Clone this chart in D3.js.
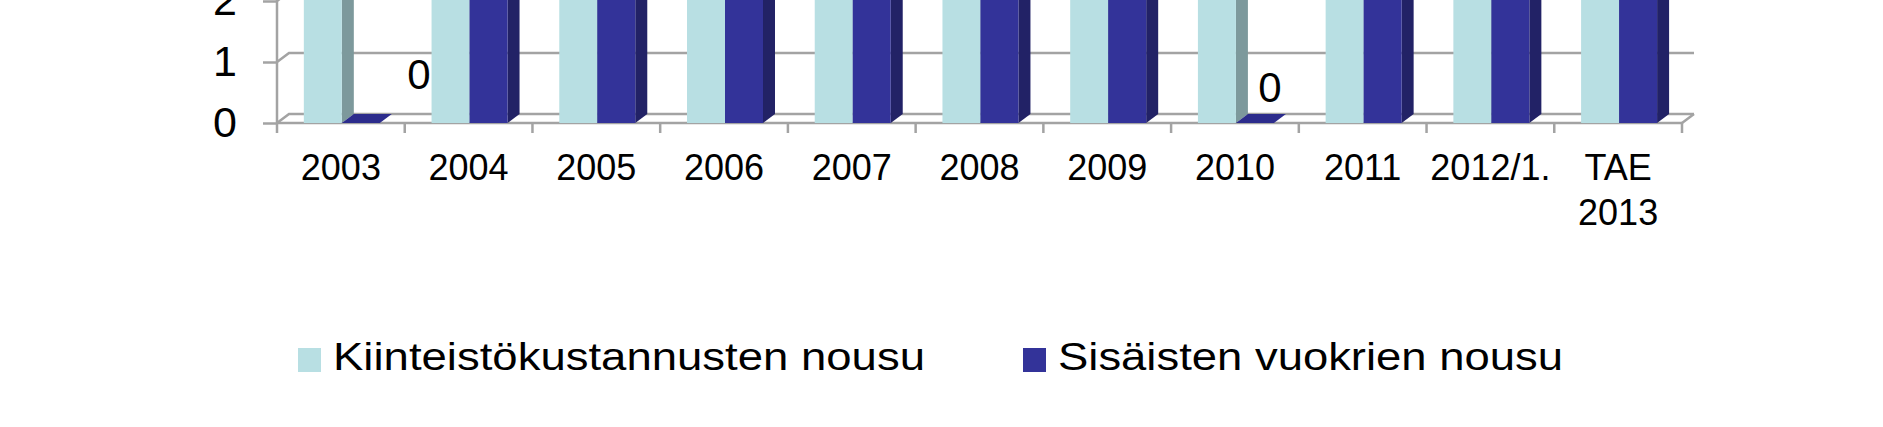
<!DOCTYPE html>
<html>
<head>
<meta charset="utf-8">
<script src="https://cdn.jsdelivr.net/npm/d3@7"></script>
<style>
  body { margin: 0; background: #fff; }
  text { font-family: "Liberation Sans", Arial, sans-serif; fill: #000; }
</style>
</head>
<body>
<div class="chart"></div>
<script>
// Years along the x axis ("TAE 2013" is split on two lines)
var categories = ['2003', '2004', '2005', '2006', '2007', '2008', '2009', '2010', '2011', '2012/1.', 'TAE 2013'];

// Both series run past the top of the cropped picture, except the two zeros
var kiinteistoNousu = [3.5, 3.2, 3.0, 3.8, 4.5, 5.0, 3.9, 2.8, 3.6, 4.0, 3.3];
var vuokrienNousu = [0, 3.0, 2.5, 3.0, 3.5, 4.0, 4.5, 0, 3.0, 3.5, 3.0];

var seriesNames = ['Kiinteistökustannusten nousu', 'Sisäisten vuokrien nousu'];
// only the bottom of the value axis is inside the picture
var yTicks = [0, 1, 2];

var width = 1883, height = 427;
var colors = [
  { front: '#b8dfe3', side: '#7d999c', top: '#9cc4c8' },
  { front: '#333399', side: '#222266', top: '#2c2c8c' }
];
var depthX = 12, depthY = 9; // fake 3d offset
var gridColor = '#a3a3a3';

var svg = d3.select('.chart').append('svg')
  .attr('width', width)
  .attr('height', height);

var x0 = d3.scaleBand()
  .domain(categories)
  .range([277, 1682]);
var bw = x0.bandwidth();
var x1 = d3.scaleBand()
  .domain([0, 1])
  .range([bw * 0.21, bw * 0.805]);
var y = d3.scaleLinear()
  .domain([0, 7])
  .range([123, 123 - 7 * 61]);

var left = x0.range()[0], right = x0.range()[1], y0 = y(0);

// gridlines: diagonal on the side wall + line on the back wall
yTicks.forEach(function(t) {
  var yy = y(t);
  svg.append('polyline')
    .attr('points', [[left, yy], [left + depthX, yy - depthY], [right + depthX, yy - depthY]].join(' '))
    .attr('fill', 'none')
    .attr('stroke', gridColor)
    .attr('stroke-width', 2.5);
});
// floor right edge
svg.append('line')
  .attr('x1', right).attr('y1', y0)
  .attr('x2', right + depthX).attr('y2', y0 - depthY)
  .attr('stroke', gridColor).attr('stroke-width', 2.5);

// y axis
var yAxis = d3.axisLeft(y)
  .tickValues(yTicks)
  .tickFormat(d3.format('d'))
  .tickSize(14)
  .tickPadding(26);
var yg = svg.append('g')
  .attr('transform', 'translate(' + left + ',0)')
  .call(yAxis);
yg.select('.domain').remove();
yg.selectAll('line').attr('stroke', gridColor).attr('stroke-width', 2.5);
yg.selectAll('text')
  .attr('font-size', 43)
  .attr('font-family', '"Liberation Sans", Arial, sans-serif')
  .attr('fill', '#000');
svg.append('line')
  .attr('x1', left).attr('x2', left)
  .attr('y1', y(7)).attr('y2', y0 + 10)
  .attr('stroke', gridColor).attr('stroke-width', 2.5);

// front baseline and category ticks
svg.append('line')
  .attr('x1', left).attr('x2', right)
  .attr('y1', y0).attr('y2', y0)
  .attr('stroke', gridColor).attr('stroke-width', 2.5);
svg.selectAll('.ctick')
  .data(categories)
  .enter().append('line')
  .attr('x1', function(d) { return x0(d) + bw; })
  .attr('x2', function(d) { return x0(d) + bw; })
  .attr('y1', y0).attr('y2', y0 + 10)
  .attr('stroke', gridColor).attr('stroke-width', 2.5);

// bars
var bars = [];
[kiinteistoNousu, vuokrienNousu].forEach(function(vals, s) {
  vals.forEach(function(v, i) {
    bars.push({ s: s, cat: categories[i], v: v });
  });
});

var g = svg.selectAll('.bar')
  .data(bars)
  .enter().append('g');

g.each(function(d) {
  var el = d3.select(this);
  var bx = x0(d.cat) + x1(d.s), w = x1.bandwidth(), top = y(d.v);
  el.append('polygon')
    .attr('points', [[bx + w, top], [bx + w + depthX, top - depthY], [bx + w + depthX, y0 - depthY], [bx + w, y0]].join(' '))
    .attr('fill', colors[d.s].side);
  el.append('polygon')
    .attr('points', [[bx, top], [bx + depthX, top - depthY], [bx + w + depthX, top - depthY], [bx + w, top]].join(' '))
    .attr('fill', colors[d.s].top);
  el.append('rect')
    .attr('x', bx).attr('y', top)
    .attr('width', w).attr('height', y0 - top)
    .attr('fill', colors[d.s].front);
});

// data labels for the zero values (nudged like in the original)
var labelNudge = { '2003': [58, -49], '2010': [15, -36] };
svg.selectAll('.dlabel')
  .data(bars.filter(function(d) { return d.s === 1 && d.v === 0; }))
  .enter().append('text')
  .attr('x', function(d) { return x0(d.cat) + x1(d.s) + x1.bandwidth() / 2 + labelNudge[d.cat][0]; })
  .attr('y', function(d) { return y(d.v) + labelNudge[d.cat][1]; })
  .attr('dy', '0.36em')
  .attr('text-anchor', 'middle')
  .attr('font-size', 42)
  .text(function(d) { return d.v; });

// category labels
var cl = svg.selectAll('.clabel')
  .data(categories)
  .enter().append('text')
  .attr('text-anchor', 'middle')
  .attr('font-size', 36)
  .attr('y', 180);
cl.selectAll('tspan')
  .data(function(d) { return d.split(' ').map(function(t) { return { t: t, c: d }; }); })
  .enter().append('tspan')
  .attr('x', function(d) { return x0(d.c) + bw / 2; })
  .attr('dy', function(d, i) { return i === 0 ? 0 : 45; })
  .text(function(d) { return d.t; });

// legend
var legendX = [298, 1023], legendLen = [592, 505];
var lg = svg.selectAll('.legend')
  .data(seriesNames)
  .enter().append('g')
  .attr('transform', function(d, i) { return 'translate(' + legendX[i] + ',348)'; });
lg.append('rect')
  .attr('width', 23).attr('height', 24)
  .attr('fill', function(d, i) { return colors[i].front; });
lg.append('text')
  .attr('x', 35).attr('y', 22)
  .attr('font-size', 38)
  .attr('textLength', function(d, i) { return legendLen[i]; })
  .attr('lengthAdjust', 'spacingAndGlyphs')
  .text(function(d) { return d; });
</script>
</body>
</html>
